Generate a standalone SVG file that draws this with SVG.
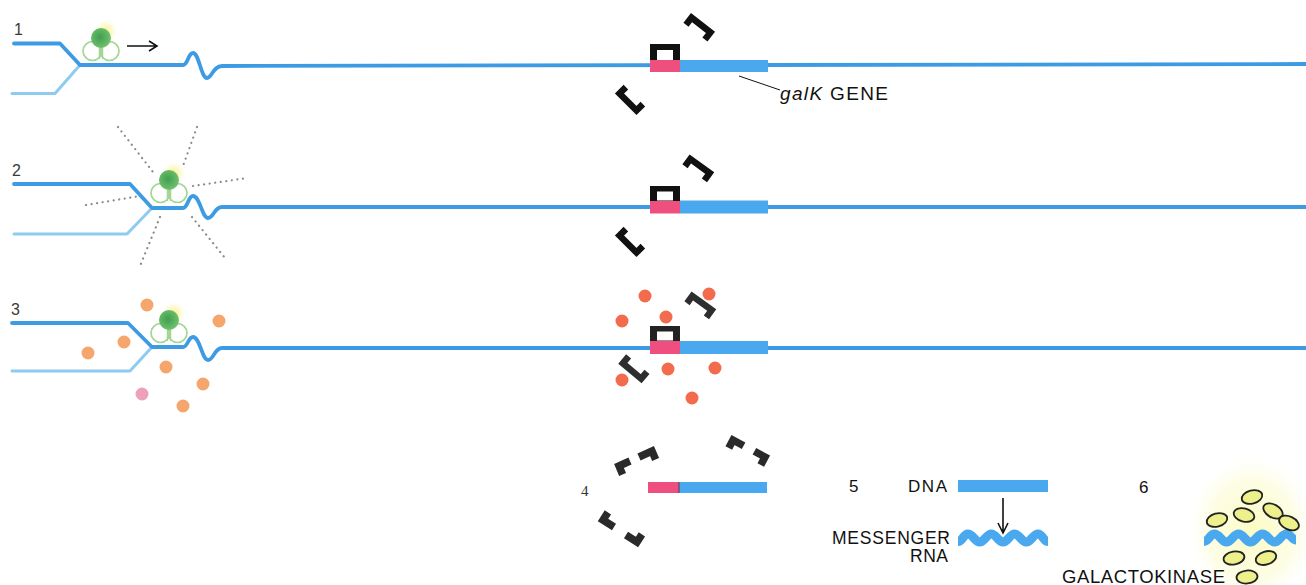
<svg xmlns="http://www.w3.org/2000/svg" width="1306" height="585" viewBox="0 0 1306 585">
  <defs>
    <style>
      .strand { fill: none; stroke: #3d9be3; stroke-width: 3.8; stroke-linejoin: round; stroke-linecap: round; }
      .strand2 { fill: none; stroke: #8ecbf0; stroke-width: 3; stroke-linejoin: round; stroke-linecap: round; }
      .bar { fill: #4aa8ee; }
      .op { fill: #ef4f7e; }
      .rep { fill: none; stroke: #111; stroke-width: 6.5; stroke-linejoin: miter; stroke-linecap: butt; }
      .rep3 { stroke: #2e2e2e; }
      .frag { fill: none; stroke: #2a2a2a; stroke-width: 7.5; stroke-linejoin: miter; stroke-linecap: butt; }
      .lbl { font-family: "Liberation Sans", Arial, sans-serif; fill: #111; }
      .num { font-family: "Liberation Sans", Arial, sans-serif; fill: #3a3a3a; font-size: 16px; }
      .ray { fill: none; stroke: #8a8a8a; stroke-width: 2.2; stroke-dasharray: 0.1 5.5; stroke-linecap: round; }
      .inducer { fill: #f26b4d; }
      .ind2 { fill: #f5a66c; }
      .enz { fill: #eef08c; stroke: #222; stroke-width: 1.8; }
      .ptr { fill: none; stroke: #111; stroke-width: 1.6; }
      .rna { fill: none; stroke: #4aa8ee; stroke-width: 9; }
    </style>
    <radialGradient id="green" cx="0.45" cy="0.45" r="0.6">
      <stop offset="0" stop-color="#3f9e4f"/>
      <stop offset="1" stop-color="#74c470"/>
    </radialGradient>
    <radialGradient id="halo" cx="0.5" cy="0.5" r="0.5">
      <stop offset="0" stop-color="#f8f08a" stop-opacity="1"/>
      <stop offset="1" stop-color="#fbf6a0" stop-opacity="0"/>
    </radialGradient>
    <radialGradient id="glow" cx="0.5" cy="0.5" r="0.5">
      <stop offset="0" stop-color="#fbfbc0" stop-opacity="0.95"/>
      <stop offset="0.65" stop-color="#fcfcd4" stop-opacity="0.6"/>
      <stop offset="1" stop-color="#ffffff" stop-opacity="0"/>
    </radialGradient>
    <!-- repressor: a bracket with both legs on one side -->
    <path id="repressor" d="M-12,9 V0 H12 V9"/>
    <!-- polymerase symbol -->
    <g id="pol">
      <circle cx="5" cy="-7" r="11" fill="url(#halo)"/>
      <circle cx="-8.5" cy="13" r="9.5" fill="none" stroke="#a3d693" stroke-width="1.7"/>
      <circle cx="8.5" cy="13" r="9.5" fill="none" stroke="#a3d693" stroke-width="1.7"/>
      <path d="M-1.6,8 V21 M1.6,8 V21" stroke="#a3d693" stroke-width="1.3" fill="none"/>
      <circle cx="0" cy="0" r="10" fill="url(#green)"/>
    </g>
  </defs>

  <rect width="1306" height="585" fill="#ffffff"/>

  <!-- step numbers -->
  <g id="step-numbers">
    <text class="num" x="14" y="35">1</text>
    <text class="num" x="12" y="176">2</text>
    <text class="num" x="11" y="315">3</text>
    <text x="581" y="496" font-family="Liberation Serif, serif" font-size="15" fill="#333">4</text>
    <text class="lbl" x="849" y="492" font-size="17">5</text>
    <text class="lbl" x="1139" y="493" font-size="17">6</text>
  </g>

  <!-- row 1: polymerase moving toward the gene -->
  <g id="dna-1">
    <path class="strand2" d="M12,93.5 L55,93.5 L80,65"/>
    <path class="strand" d="M14,43.5 L60,43.5 L80,65 L183,65 C188,65 188,53 193,53 C199,53 201,78 207,78 C212,78 213,66 222,66 L1306,64"/>
    <rect class="op" x="650" y="60" width="30" height="12"/>
    <rect class="bar" x="680" y="60" width="88" height="12"/>
  </g>
  <g id="polymerase-1"><use href="#pol" x="101" y="38"/></g>
  <g id="operator-repressor-1">
    <rect x="650" y="44" width="30" height="16" fill="#111"/>
    <rect x="657" y="50" width="16" height="10" fill="#fff"/>
  </g>
  <g id="repressors-1">
    <use href="#repressor" class="rep" transform="translate(701,25) rotate(38)"/>
    <use href="#repressor" class="rep" transform="translate(628,102) rotate(225)"/>
  </g>
  <g id="gene-label">
    <text class="lbl" x="780" y="100" font-size="19" textLength="108" lengthAdjust="spacing"><tspan font-style="italic">galK</tspan> GENE</text>
  </g>

  <!-- row 2: polymerase at the junction, rays -->
  <g id="dna-2">
    <path class="strand2" d="M14,234 L127,234 L152,208"/>
    <path class="strand" d="M14,184 L130,184 L152,208 L183,208 C188,208 188,196 193,196 C200,196 202,218 208,218 C214,218 214,207 222,207 L1306,207"/>
    <rect class="op" x="650" y="200.5" width="30" height="13"/>
    <rect class="bar" x="680" y="200.5" width="88" height="13"/>
  </g>
  <g id="signal-rays">
    <line class="ray" x1="118" y1="127" x2="153" y2="172"/>
    <line class="ray" x1="197" y1="127" x2="183" y2="166"/>
    <line class="ray" x1="193" y1="186" x2="247" y2="178"/>
    <line class="ray" x1="86" y1="205" x2="140" y2="196"/>
    <line class="ray" x1="160" y1="217" x2="140" y2="266"/>
    <line class="ray" x1="192" y1="217" x2="225" y2="258"/>
  </g>
  <g id="polymerase-2"><use href="#pol" x="169" y="180"/></g>
  <g id="operator-repressor-2">
    <rect x="650" y="186" width="30" height="15" fill="#111"/>
    <rect x="657" y="191.5" width="16" height="9" fill="#fff"/>
  </g>
  <g id="repressors-2">
    <use href="#repressor" class="rep" transform="translate(700,166) rotate(36)"/>
    <use href="#repressor" class="rep" transform="translate(628,244) rotate(225)"/>
  </g>

  <!-- row 3: inducer released -->
  <g id="dna-3">
    <path class="strand2" d="M12,371 L130,371 L152,347" stroke="#94d4ec"/>
    <path class="strand" d="M12,323 L128,323 L152,347 L183,347 C188,347 188,337 193,337 C200,337 202,360 208,360 C214,360 214,348 222,348 L1306,348"/>
    <rect class="op" x="650" y="341" width="30" height="13"/>
    <rect class="bar" x="680" y="341" width="88" height="13"/>
  </g>
  <g id="polymerase-3"><use href="#pol" x="169" y="320"/></g>
  <g id="inducer-left">
    <circle class="ind2" cx="147" cy="305" r="6.5"/>
    <circle class="ind2" cx="219" cy="321" r="6.5"/>
    <circle class="ind2" cx="124" cy="342" r="6.5"/>
    <circle class="ind2" cx="88" cy="353" r="6.5"/>
    <circle class="ind2" cx="166" cy="367" r="6.5"/>
    <circle class="ind2" cx="203" cy="384" r="6.5"/>
    <circle cx="142" cy="394" r="6.5" fill="#eda2ba"/>
    <circle class="ind2" cx="183" cy="406" r="6.5"/>
  </g>
  <g id="operator-repressor-3">
    <rect x="650" y="326" width="30" height="15" fill="#222"/>
    <rect x="657" y="331.5" width="16" height="9" fill="#fff"/>
  </g>
  <g id="inducer-center">
    <circle class="inducer" cx="645" cy="296" r="6.5"/>
    <circle class="inducer" cx="622" cy="321" r="6.5"/>
    <circle class="inducer" cx="666" cy="317" r="6.5"/>
    <circle class="inducer" cx="668" cy="369" r="6.5"/>
    <circle class="inducer" cx="715" cy="368" r="6.5"/>
    <circle class="inducer" cx="622" cy="380" r="6.5"/>
    <circle class="inducer" cx="692" cy="398" r="6.5"/>
  </g>
  <g id="repressors-3">
    <use href="#repressor" class="rep rep3" transform="translate(702,303) rotate(36)"/>
    <use href="#repressor" class="rep rep3" transform="translate(632,371) rotate(220)"/>
    <circle class="inducer" cx="709" cy="294" r="6.5"/>
  </g>

  <!-- row 4: repressors broken apart, operator free -->
  <g id="dna-4">
    <rect class="op" x="648" y="482" width="31" height="11"/>
    <rect class="bar" x="679" y="482" width="88" height="11"/>
    <line x1="679" y1="482" x2="679" y2="493" stroke="#4a4060" stroke-width="1"/>
  </g>
  <g id="repressor-fragments">
    <path class="frag" d="M622.6,474.5 L619,466 L630,461"/>
    <path class="frag" d="M639,457 L652,451 L655.6,459.5"/>
    <path class="frag" d="M728.8,448 L733,440 L743.6,445.7"/>
    <path class="frag" d="M754.4,451.3 L765,457 L760.8,465"/>
    <path class="frag" d="M607.9,512.4 L603,520 L614,527"/>
    <path class="frag" d="M626,535 L637,542 L641.9,534.4"/>
  </g>

  <!-- row 5: transcription -->
  <g id="dna-5">
    <text class="lbl" x="908" y="492" font-size="17" textLength="39" lengthAdjust="spacing">DNA</text>
    <rect class="bar" x="958" y="480" width="90" height="12"/>
  </g>
  <g id="mrna-5">
    <text class="lbl" x="832" y="544" font-size="17.5" textLength="118" lengthAdjust="spacing">MESSENGER</text>
    <text class="lbl" x="910" y="562" font-size="17.5" textLength="38" lengthAdjust="spacing">RNA</text>
    <path class="rna" d="M958,541.5 C962.5,541.5 963.3,534 968,534 C972.7,534 975,542 979.7,542 C984.4,542 986.6,534 991.3,534 C996,534 998.3,542 1003,542 C1007.7,542 1009.9,534 1014.6,534 C1019.3,534 1021.6,542 1026.3,542 C1031,542 1033.2,534 1037.9,534 C1042.6,534 1043.5,541.5 1048,541.5"/>
  </g>

  <!-- row 6: translation into galactokinase -->
  <g id="enzyme-6">
    <ellipse cx="1252" cy="530" rx="68" ry="78" fill="url(#glow)"/>
    <path class="rna" stroke-width="11" d="M1204,541.5 C1208.5,541.5 1210,534 1214.5,534 C1219.5,534 1221.5,542 1226.5,542 C1231.5,542 1233.5,534 1238.5,534 C1243.5,534 1245.5,542 1250.5,542 C1255.5,542 1257.5,534 1262.5,534 C1267.5,534 1269.5,542 1274.5,542 C1279.5,542 1281.5,534 1286.5,534 C1291,534 1292,540 1296,540"/>
    <ellipse class="enz" cx="1252" cy="497" rx="10.5" ry="6.5" transform="rotate(-15 1252 497)"/>
    <ellipse class="enz" cx="1273" cy="511" rx="10.5" ry="6.5" transform="rotate(30 1273 511)"/>
    <ellipse class="enz" cx="1217" cy="520" rx="10.5" ry="6.5" transform="rotate(-15 1217 520)"/>
    <ellipse class="enz" cx="1244" cy="515" rx="10.5" ry="6.5" fill="#d9d9a8" transform="rotate(15 1244 515)"/>
    <ellipse class="enz" cx="1289" cy="523" rx="10.5" ry="6.5" transform="rotate(25 1289 523)"/>
    <ellipse class="enz" cx="1234" cy="558" rx="10.5" ry="6.5" transform="rotate(-10 1234 558)"/>
    <ellipse class="enz" cx="1266" cy="558" rx="10.5" ry="6.5" transform="rotate(-18 1266 558)"/>
    <ellipse class="enz" cx="1247" cy="577" rx="10.5" ry="6.5" transform="rotate(-5 1247 577)"/>
    <text class="lbl" x="1062" y="583" font-size="18.5" textLength="163" lengthAdjust="spacing">GALACTOKINASE</text>
  </g>

  <!-- connectors -->
  <g id="connectors">
    <path class="ptr" d="M127,46 H156 M149,41 L157,46 L149,51"/>
    <line x1="739" y1="76" x2="780" y2="90" stroke="#111" stroke-width="1"/>
    <path class="ptr" stroke-width="1.5" d="M1003,498 V532 M998,523 L1003,533 L1008,523"/>
  </g>
</svg>
